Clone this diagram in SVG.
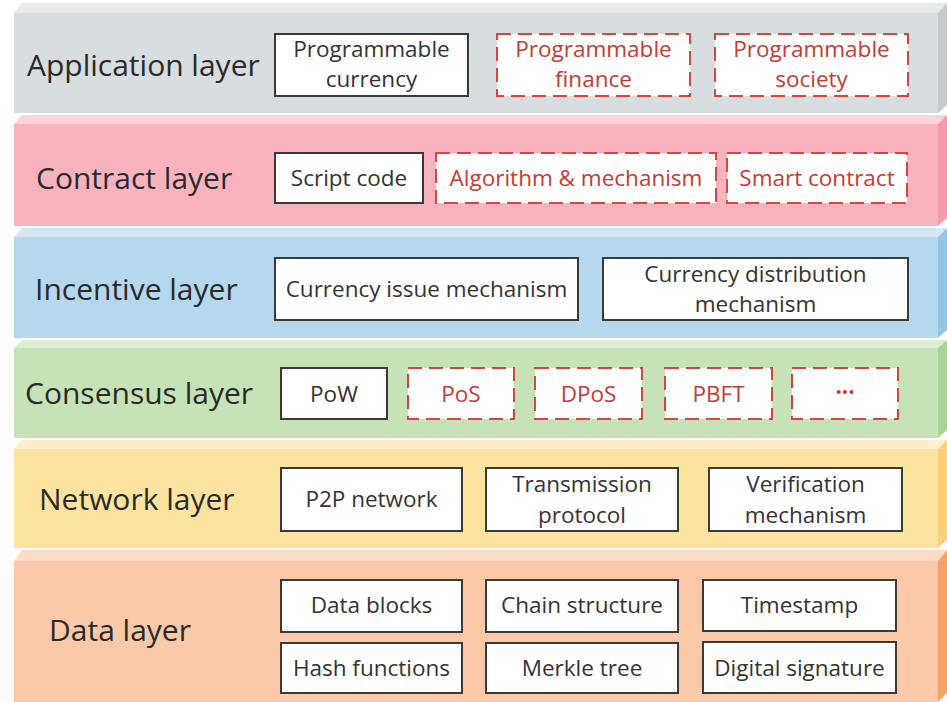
<svg xmlns="http://www.w3.org/2000/svg" width="947" height="702" viewBox="0 0 947 702">
<style>
.lbl{font-family:"Open Sans","Lato","Liberation Sans",sans-serif;font-size:30px;fill:#2a2a2a}
.bt{font-family:"Open Sans","Lato","Liberation Sans",sans-serif;font-size:22.5px;fill:#333;text-anchor:middle}
.rt{font-family:"Open Sans","Lato","Liberation Sans",sans-serif;font-size:22.5px;fill:#c43b34;text-anchor:middle}
.box{fill:#fff;stroke:#3a3a3a;stroke-width:2}
.dbox{fill:#fff;stroke:#d9443c;stroke-width:2;stroke-dasharray:14 7}
</style>
<rect width="947" height="702" fill="#ffffff"/>
<g id="application-layer">
<polygon points="14,13 22,3 947,3 938,13" fill="#e6eaec"/>
<polygon points="938,13 947,3 947,105 938,113" fill="#c4cacd"/>
<rect x="14" y="13" width="924" height="100" fill="#d8dde0"/>
<text class="lbl" x="27" y="76">Application layer</text>
</g>
<g id="contract-layer">
<polygon points="14,124 22,115 947,115 938,124" fill="#fbd3da"/>
<polygon points="938,124 947,115 947,218 938,226" fill="#f59aaa"/>
<rect x="14" y="124" width="924" height="102" fill="#f9b3bf"/>
<text class="lbl" x="36" y="189">Contract layer</text>
</g>
<g id="incentive-layer">
<polygon points="14,237 22,228 947,228 938,237" fill="#d4e8f3"/>
<polygon points="938,237 947,228 947,330 938,338" fill="#92c6e6"/>
<rect x="14" y="237" width="924" height="101" fill="#b5d8ee"/>
<text class="lbl" x="35" y="300">Incentive layer</text>
</g>
<g id="consensus-layer">
<polygon points="14,348 22,340 947,340 938,348" fill="#dcedd4"/>
<polygon points="938,348 947,340 947,430 938,438" fill="#a8d596"/>
<rect x="14" y="348" width="924" height="90" fill="#c6e3b8"/>
<text class="lbl" x="25" y="404">Consensus layer</text>
</g>
<g id="network-layer">
<polygon points="14,449 22,440 947,440 938,449" fill="#fdefcc"/>
<polygon points="938,449 947,440 947,540 938,548" fill="#fad07a"/>
<rect x="14" y="449" width="924" height="99" fill="#fde3a0"/>
<text class="lbl" x="39" y="510">Network layer</text>
</g>
<g id="data-layer">
<polygon points="14,561 22,550 947,550 938,561" fill="#fcdcc9"/>
<polygon points="938,561 947,550 947,693 938,702" fill="#f8a06a"/>
<rect x="14" y="561" width="924" height="141" fill="#fbc8a8"/>
<text class="lbl" x="49" y="641">Data layer</text>
</g>

<g id="programmable-currency"><rect class="box" x="275" y="34" width="193" height="62"/><text class="bt" x="371.5" y="57">Programmable</text><text class="bt" x="371.5" y="87">currency</text></g>
<g id="programmable-finance"><rect class="dbox" x="497" y="34" width="193" height="62"/><text class="rt" x="593.5" y="57">Programmable</text><text class="rt" x="593.5" y="87">finance</text></g>
<g id="programmable-society"><rect class="dbox" x="715" y="34" width="193" height="62"/><text class="rt" x="811.5" y="57">Programmable</text><text class="rt" x="811.5" y="87">society</text></g>

<g id="script-code"><rect class="box" x="275" y="153" width="148" height="50"/><text class="bt" x="349" y="186">Script code</text></g>
<g id="algorithm-mechanism"><rect class="dbox" x="436" y="153" width="280" height="50"/><text class="rt" x="576" y="186">Algorithm &amp; mechanism</text></g>
<g id="smart-contract"><rect class="dbox" x="727" y="153" width="180" height="50"/><text class="rt" x="817" y="186">Smart contract</text></g>

<g id="currency-issue"><rect class="box" x="275" y="258" width="303" height="62"/><text class="bt" x="426.5" y="297">Currency issue mechanism</text></g>
<g id="currency-distribution"><rect class="box" x="603" y="258" width="305" height="62"/><text class="bt" x="755.5" y="282">Currency distribution</text><text class="bt" x="755.5" y="312">mechanism</text></g>

<g id="pow"><rect class="box" x="281" y="368" width="106" height="51"/><text class="bt" x="334" y="402">PoW</text></g>
<g id="pos"><rect class="dbox" x="408" y="368" width="106" height="51"/><text class="rt" x="461" y="402">PoS</text></g>
<g id="dpos"><rect class="dbox" x="535" y="368" width="107" height="51"/><text class="rt" x="588.5" y="402">DPoS</text></g>
<g id="pbft"><rect class="dbox" x="665" y="368" width="107" height="51"/><text class="rt" x="718.5" y="402">PBFT</text></g>
<g id="etc"><rect class="dbox" x="792" y="368" width="106" height="51"/><text class="rt" x="845" y="400" font-weight="bold">···</text></g>

<g id="p2p-network"><rect class="box" x="281" y="468" width="181" height="63"/><text class="bt" x="371.5" y="507">P2P network</text></g>
<g id="transmission-protocol"><rect class="box" x="486" y="468" width="192" height="63"/><text class="bt" x="582" y="492">Transmission</text><text class="bt" x="582" y="523">protocol</text></g>
<g id="verification-mechanism"><rect class="box" x="709" y="468" width="193" height="63"/><text class="bt" x="805.5" y="492">Verification</text><text class="bt" x="805.5" y="523">mechanism</text></g>

<g id="data-blocks"><rect class="box" x="281" y="580" width="181" height="52"/><text class="bt" x="371.5" y="613">Data blocks</text></g>
<g id="chain-structure"><rect class="box" x="486" y="580" width="192" height="52"/><text class="bt" x="582" y="613">Chain structure</text></g>
<g id="timestamp"><rect class="box" x="703" y="580" width="193" height="51"/><text class="bt" x="799.5" y="613">Timestamp</text></g>
<g id="hash-functions"><rect class="box" x="281" y="643" width="181" height="50"/><text class="bt" x="371.5" y="676">Hash functions</text></g>
<g id="merkle-tree"><rect class="box" x="486" y="643" width="192" height="50"/><text class="bt" x="582" y="676">Merkle tree</text></g>
<g id="digital-signature"><rect class="box" x="703" y="642" width="193" height="51"/><text class="bt" x="799.5" y="676">Digital signature</text></g>
<g id="connectors"/>
</svg>
